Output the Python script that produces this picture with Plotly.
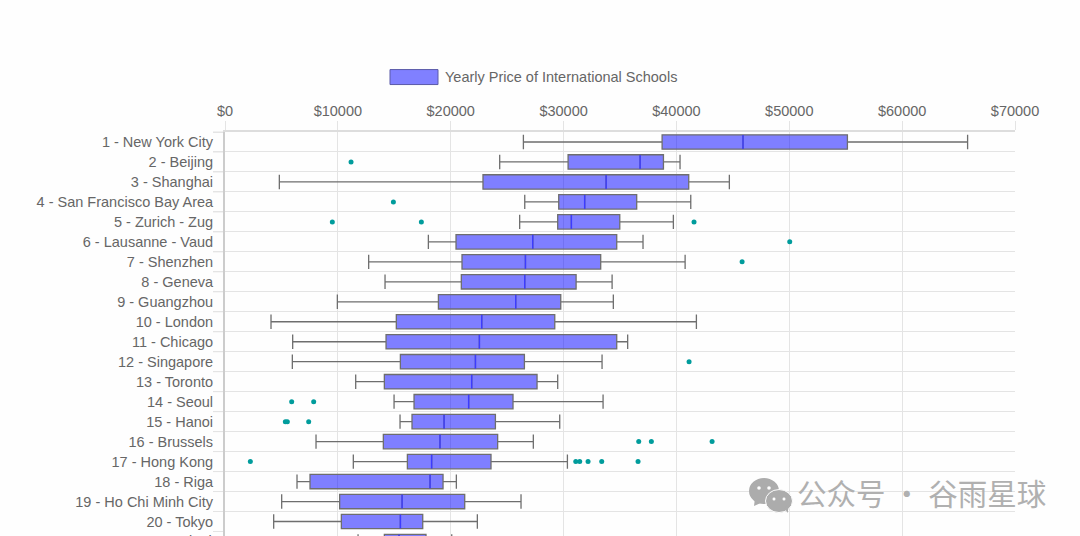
import plotly.graph_objects as go

# === 1. Data ===
cities = [
    "1 - New York City", "2 - Beijing", "3 - Shanghai", "4 - San Francisco Bay Area",
    "5 - Zurich - Zug", "6 - Lausanne - Vaud", "7 - Shenzhen", "8 - Geneva",
    "9 - Guangzhou", "10 - London", "11 - Chicago", "12 - Singapore", "13 - Toronto",
    "14 - Seoul", "15 - Hanoi", "16 - Brussels", "17 - Hong Kong", "18 - Riga",
    "19 - Ho Chi Minh City", "20 - Tokyo", "21 - Taipei",
]
low = [26440, 24340, 4815, 26560, 26110, 18020, 12730, 14180, 9955, 4077, 5997,
       5967, 11580, 14980, 15510, 8065, 11370, 6381, 5022, 4313, 11790]
q1 = [38730, 30400, 22860, 29570, 29480, 20470, 21000, 20940, 18910, 15180, 14270,
      15540, 14120, 16750, 16570, 14030, 16160, 7533, 10160, 10310, 14120]
median = [45900, 36780, 33770, 31870, 30690, 27270, 26620, 26560, 25760, 22750, 22540,
          22190, 21860, 21590, 19410, 19050, 18310, 18170, 15690, 15540, 15420]
q3 = [55150, 38850, 41090, 36480, 34980, 34710, 33290, 31110, 29750, 29220, 34710,
      26530, 27650, 25520, 23960, 24160, 23570, 19320, 21240, 17520, 17810]
high = [65800, 40320, 44690, 41270, 39730, 37040, 40770, 34300, 34410, 41770, 35680,
        33410, 29480, 33500, 29660, 27320, 30340, 20500, 26230, 22360, 20090]

outlier_rows = [1, 3, 4, 4, 4, 5, 6, 11, 13, 13, 14, 14, 14, 15, 15, 15,
                16, 16, 16, 16, 16, 16]
outlier_prices = [11170, 14920, 9510, 17400, 41560, 50040, 45820, 41120, 5908, 7858,
                  5347, 5524, 7415, 36660, 37780, 43160,
                  2245, 31080, 31430, 32170, 33380, 36600]

price_ticks = [0, 10000, 20000, 30000, 40000, 50000, 60000, 70000]
price_labels = ["$0", "$10000", "$20000", "$30000", "$40000", "$50000", "$60000", "$70000"]
legend_name = "Yearly Price of International Schools"
watermark = "公众号 · 谷雨星球"

TEXT = "#666666"
GRID = "#e4e4e4"
FONT = "Liberation Sans, Arial, sans-serif"
FONT_SIZE = 14.5

# === 2. Plot area in window pixels ===
W, H = 1080, 536
LEFT, RIGHT, TOP = 225, 1015, 131.5
ROW = 20
TICK_LEFT = 213


def px(x):
    return (x - LEFT) / (RIGHT - LEFT)


def py(y):
    return (H - y) / (H - TOP)


# === 3. Traces ===
fig = go.Figure()
fig.add_trace(go.Box(
    y=cities,
    lowerfence=low, q1=q1, median=median, q3=q3, upperfence=high,
    orientation="h",
    width=0.72,
    whiskerwidth=1,
    boxpoints=False,
    fillcolor="rgba(0,0,255,0.5)",
    line=dict(color="#6e6e6e", width=1.3),
    name=legend_name,
))
fig.add_trace(go.Scatter(
    x=median, y=cities, mode="markers",
    marker=dict(symbol="line-ns", size=10, line=dict(color="#3c3cff", width=1.5)),
    hoverinfo="skip",
))
fig.add_trace(go.Scatter(
    x=outlier_prices, y=[cities[i] for i in outlier_rows], mode="markers",
    marker=dict(color="#009c9c", size=5),
))

# === 4. Legend and cut-off label, row ticks, watermark ===
shapes = [dict(
    type="rect", xref="paper", yref="paper",
    x0=px(390), x1=px(438), y0=py(69), y1=py(84),
    fillcolor="#8080ff", line=dict(color="#5a5aa8", width=1),
)]
# row ticks reach further left than the labels' default gap allows
for i in range(len(cities)):
    y = py(TOP + ROW * i)
    shapes.append(dict(type="line", xref="paper", yref="paper", layer="below",
                       x0=px(TICK_LEFT), x1=0, y0=y, y1=y,
                       line=dict(color=GRID, width=1)))

annotations = [
    dict(text=legend_name, xref="paper", yref="paper", x=px(443), y=py(76.5),
         xanchor="left", yanchor="middle", showarrow=False,
         font=dict(size=FONT_SIZE, color=TEXT, family=FONT)),
    dict(text=cities[20], xref="paper", yref="paper", x=px(214), y=py(541),
         xanchor="right", yanchor="middle", showarrow=False,
         font=dict(size=FONT_SIZE, color=TEXT, family=FONT)),
    dict(text=watermark, xref="paper", yref="paper", x=px(795), y=py(492),
         xanchor="left", yanchor="middle", showarrow=False,
         font=dict(size=29.5, color="#b0b0b0", family="Noto Sans CJK SC")),
]


def bubble(cx, cy, rx, ry, color, line=None):
    return dict(type="circle", xref="paper", yref="paper",
                x0=px(cx - rx), x1=px(cx + rx), y0=py(cy + ry), y1=py(cy - ry),
                fillcolor=color, line=dict(color=line or color, width=1 if line else 0))


def tail(points, color):
    path = "M" + " L".join(f"{px(a)},{py(b)}" for a, b in points) + " Z"
    return dict(type="path", xref="paper", yref="paper", path=path,
                fillcolor=color, line=dict(width=0))


ICON = "#acacac"
shapes += [
    tail([(755, 498), (754, 506), (763, 502)], ICON),
    bubble(764, 491, 15, 13, ICON),
    bubble(779, 501, 13.5, 11.5, ICON, line="#fefefe"),
    tail([(784, 508), (788, 513), (788, 505)], ICON),
    bubble(759, 488, 1.8, 1.8, "#fefefe"),
    bubble(769, 488, 1.8, 1.8, "#fefefe"),
    bubble(774, 499, 1.5, 1.5, "#fefefe"),
    bubble(784, 499, 1.5, 1.5, "#fefefe"),
]

# === 5. Layout ===
fig.update_layout(
    width=W, height=H,
    margin=dict(l=LEFT, r=W - RIGHT, t=TOP, b=0, pad=0),
    paper_bgcolor="#fefefe", plot_bgcolor="rgba(0,0,0,0)",
    font=dict(family=FONT, size=FONT_SIZE, color=TEXT),
    showlegend=False,
    shapes=shapes, annotations=annotations,
    xaxis=dict(
        side="top", range=[0, 70000], tickmode="array",
        tickvals=price_ticks, ticktext=price_labels,
        ticks="outside", ticklen=9, tickcolor=GRID, tickwidth=1, ticklabelstandoff=-1,
        showgrid=True, gridcolor=GRID, gridwidth=1, zeroline=False,
        showline=True, linecolor="#dddddd", linewidth=2, automargin=False,
    ),
    yaxis=dict(
        type="category", categoryorder="array", categoryarray=cities,
        range=[(H - TOP) / ROW - 0.5, -0.5],
        tickson="boundaries", ticks="outside", ticklen=10, tickcolor=GRID, tickwidth=1,
        ticklabelstandoff=7,
        showgrid=True, gridcolor=GRID, gridwidth=1, zeroline=False,
        showline=True, linecolor="#cccccc", linewidth=2, automargin=False,
    ),
)

fig.write_html("out.html", config=dict(displayModeBar=False),
               post_script="document.body.style.margin='0';")
